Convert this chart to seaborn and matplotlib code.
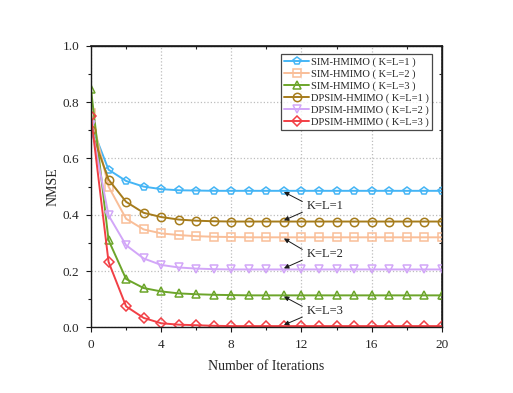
import numpy as np
import matplotlib
matplotlib.use("Agg")
import matplotlib.pyplot as plt
import seaborn as sns
from matplotlib.ticker import MultipleLocator

sns.set_theme(style="ticks")
plt.rcParams["font.family"] = ["Liberation Serif", "DejaVu Serif"]
plt.rcParams["mathtext.fontset"] = "stix"

# iterations 0..20
iters = list(range(21))

sim_k1 = [0.72, 0.56, 0.52, 0.50, 0.491, 0.487, 0.486, 0.485, 0.485, 0.485, 0.485,
          0.485, 0.485, 0.485, 0.485, 0.485, 0.485, 0.485, 0.485, 0.485, 0.485]
sim_k2 = [0.76, 0.50, 0.386, 0.348, 0.334, 0.328, 0.324, 0.322, 0.321, 0.320, 0.320,
          0.320, 0.320, 0.320, 0.320, 0.320, 0.320, 0.320, 0.320, 0.320, 0.320]
sim_k3 = [0.845, 0.31, 0.172, 0.140, 0.128, 0.121, 0.118, 0.116, 0.115, 0.114, 0.114,
          0.114, 0.114, 0.114, 0.114, 0.114, 0.114, 0.114, 0.114, 0.114, 0.114]
dp_k1 = [0.70, 0.525, 0.446, 0.407, 0.392, 0.383, 0.379, 0.377, 0.376, 0.376, 0.376,
         0.376, 0.376, 0.376, 0.376, 0.376, 0.376, 0.376, 0.376, 0.376, 0.376]
dp_k2 = [0.72, 0.398, 0.292, 0.245, 0.222, 0.213, 0.209, 0.207, 0.206, 0.206, 0.206,
         0.206, 0.206, 0.206, 0.206, 0.206, 0.206, 0.206, 0.206, 0.206, 0.206]
dp_k3 = [0.75, 0.233, 0.075, 0.034, 0.015, 0.010, 0.008, 0.006, 0.005, 0.005, 0.005,
         0.005, 0.005, 0.005, 0.005, 0.005, 0.005, 0.005, 0.005, 0.005, 0.005]

series = [
    ("SIM-HMIMO ( K=L=1 )", sim_k1, "#45B5F5", "p"),
    ("SIM-HMIMO ( K=L=2 )", sim_k2, "#F9BE98", "s"),
    ("SIM-HMIMO ( K=L=3 )", sim_k3, "#6CA52A", "^"),
    ("DPSIM-HMIMO ( K=L=1 )", dp_k1, "#A67C1C", "o"),
    ("DPSIM-HMIMO ( K=L=2 )", dp_k2, "#D2A6F8", "v"),
    ("DPSIM-HMIMO ( K=L=3 )", dp_k3, "#F23F45", "D"),
]

fig = plt.figure(figsize=(5.13, 3.93), dpi=100)
ax = fig.add_axes([0.1774, 0.1667, 0.6837, 0.717])

for label, vals, color, mk in series:
    sns.lineplot(x=iters, y=vals, ax=ax, color=color, marker=mk,
                 markersize=6 if mk != "D" else 5, markerfacecolor="none",
                 markeredgecolor=color, markeredgewidth=1.1, linewidth=1.4,
                 label=label)

ax.set_xlim(0, 20)
ax.set_ylim(0, 1.0)
ax.xaxis.set_major_locator(MultipleLocator(4))
ax.xaxis.set_minor_locator(MultipleLocator(2))
ax.yaxis.set_major_locator(MultipleLocator(0.2))
ax.yaxis.set_minor_locator(MultipleLocator(0.1))
ax.set_yticks(np.arange(0, 1.01, 0.2))
ax.set_yticklabels([f"{v:.1f}" for v in np.arange(0, 1.01, 0.2)])
ax.tick_params(which="both", direction="out", labelsize=9.5, width=0.8, color="k")
ax.tick_params(which="major", length=3.5, pad=5)
ax.tick_params(which="minor", length=2)
ax.grid(True, which="major", linestyle=":", color="#bdbdbd", linewidth=0.9)
ax.set_axisbelow(True)
for s in ax.spines.values():
    s.set_linewidth(1.0)
    s.set_color("k")

# mirrored minor ticks pointing inward on top and right
top = ax.secondary_xaxis("top")
top.xaxis.set_major_locator(MultipleLocator(4))
top.xaxis.set_minor_locator(MultipleLocator(2))
top.tick_params(which="major", length=0, labeltop=False)
top.tick_params(which="minor", direction="in", length=2, width=0.8)
top.set_xticklabels([])
right = ax.secondary_yaxis("right")
right.yaxis.set_major_locator(MultipleLocator(0.2))
right.yaxis.set_minor_locator(MultipleLocator(0.1))
right.tick_params(which="major", length=0, labelright=False)
right.tick_params(which="minor", direction="in", length=2, width=0.8)
right.set_yticklabels([])

ax.set_xlabel("Number of Iterations", fontsize=10, labelpad=6)
ax.set_ylabel("NMSE", fontsize=10, labelpad=2)

leg = ax.legend(loc="upper right", bbox_to_anchor=(0.972, 0.969), borderaxespad=0,
                fontsize=7.6, handlelength=2.4, handletextpad=0.15, labelspacing=0.22,
                borderpad=0.3, frameon=True, fancybox=False, edgecolor="k")
leg.get_frame().set_linewidth(0.9)

# K=L annotations
ann_x, arrow_x0, text_x = 11, 12.05, 12.3
groups = [("K=L=1", 0.431, sim_k1[11], dp_k1[11]),
          ("K=L=2", 0.261, sim_k2[11], dp_k2[11]),
          ("K=L=3", 0.059, sim_k3[11], dp_k3[11])]
arrow = dict(arrowstyle="-|>", color="k", lw=0.7, mutation_scale=7, shrinkA=0, shrinkB=0)
for txt, ty, y_top, y_bot in groups:
    ax.text(text_x, ty, txt, fontsize=9, va="center", ha="left")
    ax.annotate("", xy=(ann_x, y_top - 0.004), xytext=(arrow_x0, ty + 0.016), arrowprops=arrow)
    ax.annotate("", xy=(ann_x, y_bot + 0.004), xytext=(arrow_x0, ty - 0.022), arrowprops=arrow)

fig.savefig("out.png", dpi=100)
